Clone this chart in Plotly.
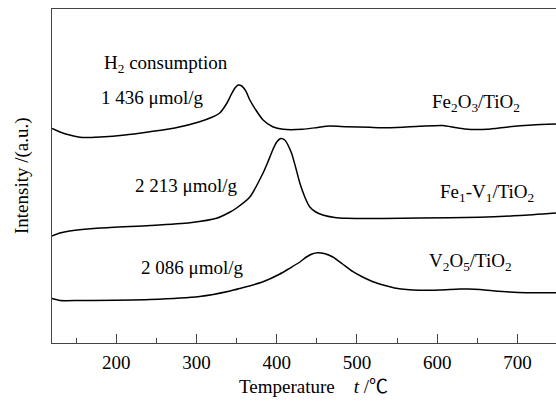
import plotly.graph_objects as go

# H2-TPR profiles (temperature in degC, intensity in arbitrary units, curves offset vertically)
t_fe = [120, 130, 142, 158, 180, 211, 242, 273, 304, 320, 329, 338, 343, 348, 352, 356.5, 361.5, 366.5,
        374, 383, 395, 408, 432, 451, 466, 487, 516, 541, 578, 607, 622, 634, 662, 690, 719, 748]
i_fe = [214.5, 211, 208, 205.5, 206, 208, 211.3, 215, 221.3, 226, 230, 240, 248, 255, 258, 257, 252, 243,
        233, 223, 216.3, 213.7, 213.7, 215.5, 217, 216.3, 215.7, 215.3, 216.7, 217.5, 215.5, 214, 213.7, 216.3, 218, 219]

t_fev = [120, 130, 142, 180, 242, 292, 325, 342, 350, 366.5, 383, 389, 395, 400, 405, 410, 418.4, 423.8,
         428.8, 435, 441, 448.7, 457.4, 472.3, 487, 532, 578, 653, 703, 748]
i_fev = [107, 110, 112, 115, 117.5, 120.3, 124.7, 131, 135, 146, 170, 181, 193, 201, 204.5, 203, 190, 175,
         160, 146, 136.3, 131, 128, 125.5, 124.7, 124.5, 125, 125.7, 127.5, 130]

t_v = [120, 130, 155, 242, 304, 342, 354, 383, 404, 416, 429, 437, 444, 451, 459, 470, 482, 495, 507,
       520, 535, 549, 578, 603, 628, 639, 653, 669, 690, 711, 748]
i_v = [44.5, 42.5, 42.5, 43.5, 46.5, 52, 54.5, 61.3, 69, 74.7, 81, 86, 89, 90.3, 89.5, 86, 79, 71.3, 66,
       61.3, 57.5, 54.7, 52.7, 53, 54, 54, 53.5, 52.3, 51, 50.3, 50.3]

x_ticks = [200, 300, 400, 500, 600, 700]

sample_names = ["Fe<sub>2</sub>O<sub>3</sub>/TiO<sub>2</sub>",
                "Fe<sub>1</sub>-V<sub>1</sub>/TiO<sub>2</sub>",
                "V<sub>2</sub>O<sub>5</sub>/TiO<sub>2</sub>"]
uptake = ["1 436 μmol/g", "2 213 μmol/g", "2 086 μmol/g"]

FONT = "Liberation Serif"
FONT_CJK = "Liberation Serif, Noto Sans CJK SC"

fig = go.Figure()
for t, i in [(t_fe, i_fe), (t_fev, i_fev), (t_v, i_v)]:
    fig.add_trace(go.Scatter(x=t, y=i, mode="lines", line=dict(color="black", width=1.5, shape="spline", smoothing=0.6),
                             showlegend=False, hoverinfo="skip"))

ann_font = dict(family=FONT, size=19, color="black")
# uptake labels next to the reduction peaks
label_pos = [(245, 246), (287, 158), (295, 76)]
for (x, y), txt in zip(label_pos, uptake):
    fig.add_annotation(x=x, y=y, text=txt, showarrow=False, font=ann_font)
fig.add_annotation(x=262, y=279, text="H<sub>2</sub> consumption", showarrow=False, font=ann_font)

# sample names on the right
name_pos = [(648, 240), (662, 150), (642, 81)]
for (x, y), txt in zip(name_pos, sample_names):
    fig.add_annotation(x=x, y=y, text=txt, showarrow=False, font=ann_font)

# axis titles
fig.add_annotation(xref="paper", yref="paper", x=0, y=0.5, xshift=-30, xanchor="center", yanchor="middle",
                   textangle=-90, text="Intensity /(a.u.)", showarrow=False, font=ann_font)
fig.add_annotation(xref="paper", yref="paper", x=0.519, y=0, yshift=-43, xanchor="center", yanchor="middle",
                   text="Temperature&nbsp;&nbsp;&nbsp;&nbsp;<i>t</i> /℃", showarrow=False,
                   font=dict(family=FONT_CJK, size=19, color="black"))

axis_col = "#444444"
fig.update_layout(
    width=556, height=401,
    margin=dict(l=52, r=0, t=9, b=58),
    paper_bgcolor="white", plot_bgcolor="white",
    font=dict(family=FONT, size=19, color="black"),
    xaxis=dict(range=[120, 748], tickvals=x_ticks, ticks="inside", ticklen=9, tickwidth=1.2,
               tickcolor=axis_col, showline=True, linecolor=axis_col, linewidth=1.2, mirror=True,
               showgrid=False, zeroline=False, ticklabelstandoff=2,
               minor=dict(ticks="inside", ticklen=5, tickwidth=1.2, tickcolor=axis_col, tick0=150, dtick=100),
               tickfont=dict(family=FONT, size=19, color="black")),
    yaxis=dict(range=[0, 334], showticklabels=False, ticks="", showline=True, linecolor=axis_col,
               linewidth=1.2, mirror=False, showgrid=False, zeroline=False),
)

fig.write_html("out.html")
